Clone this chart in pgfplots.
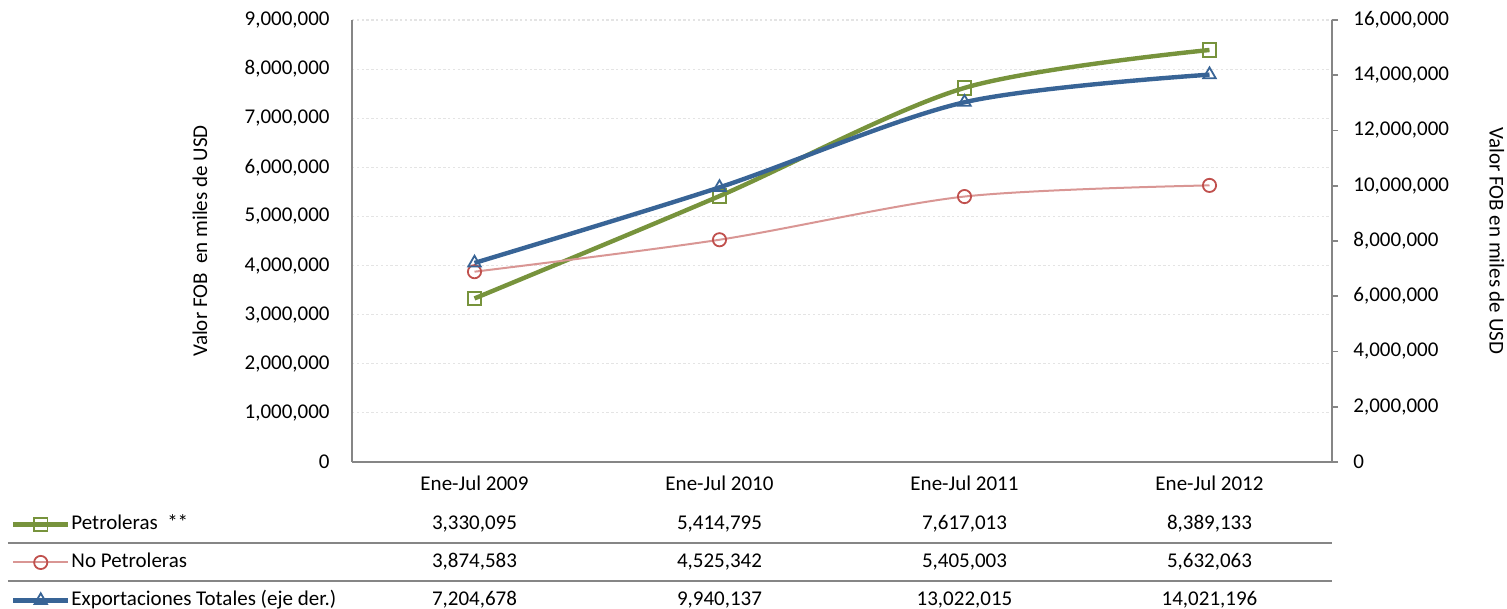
\documentclass[border=0pt]{standalone}
\usepackage{fontspec}
\setmainfont{Carlito}
\usepackage{pgfplots}
\pgfplotsset{compat=1.18}
\definecolor{cgreen}{HTML}{77933C}
\definecolor{cred}{HTML}{C0504D}
\definecolor{credl}{HTML}{D99694}
\definecolor{cblue}{HTML}{386496}
\definecolor{caxis}{HTML}{868686}
\definecolor{cgrid}{HTML}{E4E4E4}
\newcommand\fs{\fontsize{10.5}{12.6}\selectfont}
\tikzset{tab/.style={anchor=base, inner sep=0pt, font=\fs}}

\begin{document}
\begin{tikzpicture}
\pgfplotsset{
  common/.style={
    scale only axis, width=490pt, height=221pt,
    xmin=-0.5, xmax=3.5, ymin=0,
    clip=false,
    font=\fs,
    scaled y ticks=false,
    yticklabel style={/pgf/number format/fixed, /pgf/number format/1000 sep={,}, /pgf/number format/assume math mode=true},
    axis line style={caxis, line width=0.8pt},
  },
}
\begin{axis}[common, name=main,
  axis x line*=bottom, axis y line*=left,
  ymax=9000000,
  ytick={0,1000000,2000000,3000000,4000000,5000000,6000000,7000000,8000000,9000000},
  xtick={0,1,2,3},
  xticklabels={Ene-Jul 2009,Ene-Jul 2010,Ene-Jul 2011,Ene-Jul 2012},
  xticklabel style={anchor=base, inner sep=0pt, yshift=-14.5pt},
  yticklabel style={anchor=east, inner sep=0pt, xshift=-11pt},
  major tick length=0pt,
  ymajorgrids,
  major grid style={cgrid, line width=0.6pt, dash pattern=on 1.2pt off 1.2pt},
  ylabel={Valor FOB\ \ en miles de USD},
  ylabel style={at={(axis description cs:-0.1551,0.5)}, anchor=center},
  legend style={draw=none, fill=none, at={(-0.3479,-0.1199)}, anchor=north west,
    inner sep=0pt, outer sep=0pt, row sep=9.5pt, font=\fs,
    nodes={inner sep=0pt, text height=7.5pt, text depth=2pt},
    cells={anchor=west}},
  legend image code/.code={\draw[mark repeat=2,mark phase=2,#1] plot coordinates {(0pt,0pt) (13.75pt,0pt) (27.5pt,0pt)};},
  legend cell align=left,
]
\addplot[cgreen, line width=2.2pt, smooth, mark=square, mark size=3.4pt, mark options={solid, line width=0.9pt, fill=none}]
  coordinates {(0,3330095) (1,5414795) (2,7617013) (3,8389133)};
\addlegendentry{\hspace{0.5pt}Petroleras\ \ **}
\addplot[credl, line width=1pt, smooth, mark=o, mark size=3.3pt, mark options={cred, solid, line width=0.9pt, fill=white}]
  coordinates {(0,3874583) (1,4525342) (2,5405003) (3,5632063)};
\addlegendentry{\hspace{0.5pt}No Petroleras}
\addlegendimage{cblue, line width=2.2pt, mark=triangle, mark size=3.6pt, mark options={solid, line width=0.9pt, fill=none}}
\addlegendentry{\hspace{0.5pt}Exportaciones Totales (eje der.)}

% data table below the chart
\draw[caxis, line width=1pt] ([xshift=-172pt,yshift=-40.5pt]rel axis cs:0,0) -- ([yshift=-40.5pt]rel axis cs:1,0);
\draw[caxis, line width=1pt] ([xshift=-172pt,yshift=-59.5pt]rel axis cs:0,0) -- ([yshift=-59.5pt]rel axis cs:1,0);
\node[tab] at ([yshift=-34pt]axis cs:0,0) {3,330,095};
\node[tab] at ([yshift=-34pt]axis cs:1,0) {5,414,795};
\node[tab] at ([yshift=-34pt]axis cs:2,0) {7,617,013};
\node[tab] at ([yshift=-34pt]axis cs:3,0) {8,389,133};
\node[tab] at ([yshift=-53pt]axis cs:0,0) {3,874,583};
\node[tab] at ([yshift=-53pt]axis cs:1,0) {4,525,342};
\node[tab] at ([yshift=-53pt]axis cs:2,0) {5,405,003};
\node[tab] at ([yshift=-53pt]axis cs:3,0) {5,632,063};
\node[tab] at ([yshift=-72pt]axis cs:0,0) {7,204,678};
\node[tab] at ([yshift=-72pt]axis cs:1,0) {9,940,137};
\node[tab] at ([yshift=-72pt]axis cs:2,0) {13,022,015};
\node[tab] at ([yshift=-72pt]axis cs:3,0) {14,021,196};
\coordinate (bbsw) at ([xshift=-176pt,yshift=-73.5pt]rel axis cs:0,0);
\coordinate (bbne) at ([xshift=87.5pt,yshift=10pt]rel axis cs:1,1);
\end{axis}

\begin{axis}[common,
  axis x line=none, axis y line*=right,
  ymax=16000000,
  ytick={0,2000000,4000000,6000000,8000000,10000000,12000000,14000000,16000000},
  xtick=\empty,
  tick align=outside,
  major tick length=3pt,
  tick style={caxis, line width=0.8pt},
  yticklabel style={anchor=west, inner sep=0pt, xshift=7.5pt},
  ylabel={Valor FOB en miles de USD},
  ylabel style={at={(axis description cs:1.1683,0.5)}, anchor=center, rotate=180},
]
\addplot[cblue, line width=2.2pt, smooth, mark=triangle, mark size=3.6pt, mark options={solid, line width=0.9pt, fill=none}]
  coordinates {(0,7204678) (1,9940137) (2,13022015) (3,14021196)};
\end{axis}
\pgfresetboundingbox
\path (bbsw) rectangle (bbne);
\end{tikzpicture}
\end{document}
